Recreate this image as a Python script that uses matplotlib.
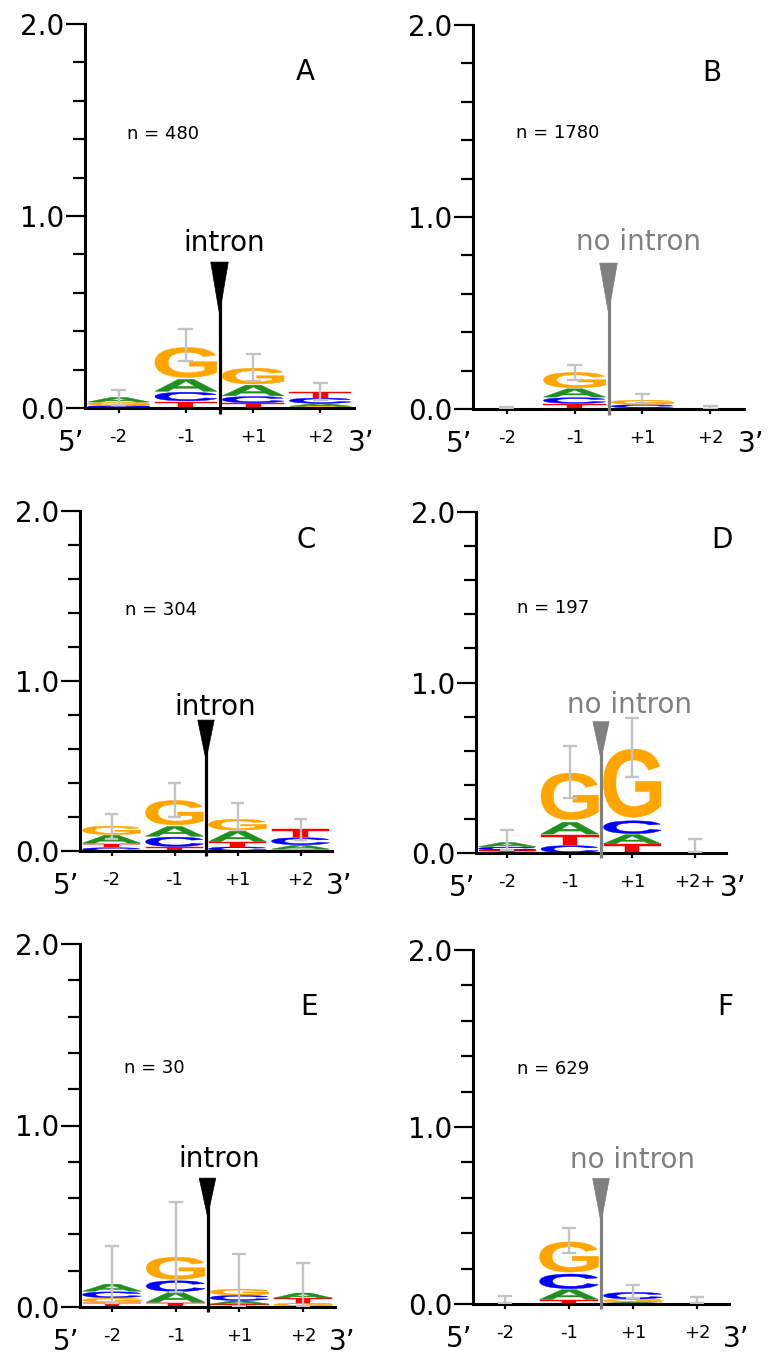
import matplotlib
matplotlib.use('Agg')
import matplotlib.pyplot as plt
from matplotlib.textpath import TextPath
from matplotlib.font_manager import FontProperties
from matplotlib.patches import PathPatch, Polygon
from matplotlib.transforms import Affine2D
from matplotlib.ticker import MultipleLocator, FixedLocator
import numpy as np

plt.rcParams['font.family'] = ['DejaVu Sans']

# ---------------- data ----------------
positions = [1, 2, 3, 4]
tick_labels = ['-2', '-1', '+1', '+2']
tick_labels_D = ['-2', '-1', '+1', '+2+']
bases = ['A', 'C', 'G', 'T']

# Panel A: intron, n = 480
A_A = [0.026, 0.068, 0.060, 0.015]
A_C = [0.008, 0.049, 0.035, 0.030]
A_G = [0.018, 0.170, 0.090, 0.008]
A_T = [0.004, 0.035, 0.026, 0.032]
A_err_lo = [0.017, 0.243, 0.142, 0.043]
A_err_hi = [0.092, 0.410, 0.280, 0.130]

# Panel B: no intron, n = 1780
B_A = [0.0005, 0.047, 0.003, 0.0005]
B_C = [0.0005, 0.032, 0.018, 0.0005]
B_G = [0.0005, 0.087, 0.024, 0.0005]
B_T = [0.0005, 0.028, 0.002, 0.0005]
B_err_lo = [0.000, 0.153, 0.031, 0.000]
B_err_hi = [0.012, 0.230, 0.078, 0.017]

# Panel C: intron, n = 304
C_A = [0.050, 0.063, 0.068, 0.025]
C_C = [0.020, 0.060, 0.025, 0.045]
C_G = [0.055, 0.157, 0.070, 0.010]
C_T = [0.024, 0.024, 0.027, 0.050]
C_err_lo = [0.071, 0.202, 0.124, 0.065]
C_err_hi = [0.218, 0.398, 0.280, 0.190]

# Panel D: no intron, n = 197
D_A = [0.026, 0.075, 0.058, 0.0005]
D_C = [0.020, 0.045, 0.082, 0.0005]
D_G = [0.008, 0.298, 0.435, 0.0005]
D_T = [0.008, 0.063, 0.052, 0.0005]
D_err_lo = [0.020, 0.324, 0.447, 0.006]
D_err_hi = [0.133, 0.627, 0.790, 0.084]

# Panel E: intron, n = 30
E_A = [0.042, 0.059, 0.020, 0.030]
E_C = [0.035, 0.064, 0.030, 0.004]
E_G = [0.026, 0.133, 0.035, 0.018]
E_T = [0.024, 0.024, 0.015, 0.026]
E_err_lo = [0.022, 0.083, 0.004, 0.004]
E_err_hi = [0.337, 0.580, 0.290, 0.243]

# Panel F: no intron, n = 629
F_A = [0.0005, 0.060, 0.008, 0.0005]
F_C = [0.0005, 0.090, 0.040, 0.0005]
F_G = [0.0005, 0.185, 0.016, 0.0005]
F_T = [0.0005, 0.023, 0.003, 0.0005]
F_err_lo = [0.008, 0.286, 0.032, 0.004]
F_err_hi = [0.045, 0.430, 0.107, 0.041]

n_values = {'A': 480, 'B': 1780, 'C': 304, 'D': 197, 'E': 30, 'F': 629}

# ---------------- styling / layout ----------------
base_colors = {'A': '#1f8f1f', 'C': '#0000ff', 'G': '#ffa500', 'T': '#ff0000'}
err_color = '#c3c3c3'
W, H = 768, 1353

panels = {
    'A': dict(data=(A_A, A_C, A_G, A_T, A_err_lo, A_err_hi), box=(85, 354, 24, 408),
              intron=True, mk=(0.76, 0.49), txt=(2.57, 0.82), ntxt=(1.12, 1.40), lab=(3.77, 1.71), ticks=tick_labels),
    'B': dict(data=(B_A, B_C, B_G, B_T, B_err_lo, B_err_hi), box=(473, 744, 25, 409),
              intron=False, mk=(0.76, 0.50), txt=(2.95, 0.83), ntxt=(1.13, 1.41), lab=(4.03, 1.71), ticks=tick_labels),
    'C': dict(data=(C_A, C_C, C_G, C_T, C_err_lo, C_err_hi), box=(80, 332, 511, 851),
              intron=True, mk=(0.77, 0.535), txt=(2.64, 0.80), ntxt=(1.21, 1.39), lab=(4.09, 1.78), ticks=tick_labels),
    'D': dict(data=(D_A, D_C, D_G, D_T, D_err_lo, D_err_hi), box=(476, 726, 512, 853),
              intron=False, mk=(0.77, 0.55), txt=(2.96, 0.82), ntxt=(1.16, 1.41), lab=(4.44, 1.79), ticks=tick_labels_D),
    'E': dict(data=(E_A, E_C, E_G, E_T, E_err_lo, E_err_hi), box=(80, 335, 944, 1307),
              intron=True, mk=(0.71, 0.50), txt=(2.68, 0.77), ntxt=(1.19, 1.29), lab=(4.09, 1.61), ticks=tick_labels),
    'F': dict(data=(F_A, F_C, F_G, F_T, F_err_lo, F_err_hi), box=(473, 729, 950, 1304),
              intron=False, mk=(0.71, 0.46), txt=(3.00, 0.77), ntxt=(1.19, 1.30), lab=(4.44, 1.63), ticks=tick_labels),
}

FP = FontProperties(family='Liberation Sans', weight='bold')
letter_paths = {}
for b in bases:
    p = TextPath((0, 0), b, size=1, prop=FP)
    letter_paths[b] = (p, p.get_extents())


def draw_letter(ax, b, xc, y0, w, h):
    p, ext = letter_paths[b]
    hh = h * 0.92
    yb = y0 + h * 0.04
    t = (Affine2D().translate(-ext.x0, -ext.y0)
         .scale(w / ext.width, hh / ext.height)
         .translate(xc - w / 2, yb))
    lw = 0.3 if h >= 0.003 else 0.0
    patch = PathPatch(t.transform_path(p), facecolor=base_colors[b],
                      edgecolor=base_colors[b] if lw else 'none', lw=lw)
    ax.add_patch(patch)


fig = plt.figure(figsize=(W / 100, H / 100), dpi=100)

for key, cfg in panels.items():
    l, r, t, btm = cfg['box']
    ax = fig.add_axes([l / W, 1 - btm / H, (r - l) / W, (btm - t) / H])
    ax.set_xlim(0.5, 4.5)
    ax.set_ylim(0, 2.0)
    for s in ('top', 'right'):
        ax.spines[s].set_visible(False)
    for s in ('left', 'bottom'):
        ax.spines[s].set_linewidth(2.2)

    a_v, c_v, g_v, t_v, lo, hi = cfg['data']
    heights = {'A': a_v, 'C': c_v, 'G': g_v, 'T': t_v}
    for i, x in enumerate(positions):
        col = sorted(bases, key=lambda bb: heights[bb][i])
        y0 = 0.0
        for bb in col:
            h = heights[bb][i]
            draw_letter(ax, bb, x, y0, 0.92, h)
            y0 += h
    ax.vlines(positions, lo, hi, color=err_color, lw=1.7, zorder=5)
    ax.hlines(lo, np.array(positions) - 0.11, np.array(positions) + 0.11, color=err_color, lw=1.7, zorder=5)
    ax.hlines(hi, np.array(positions) - 0.11, np.array(positions) + 0.11, color=err_color, lw=1.7, zorder=5)

    mcol = 'black' if cfg['intron'] else '#808080'
    ytop, ytip = cfg['mk']
    xm = 2.5
    tri = Polygon([[xm - 0.13, ytop], [xm + 0.13, ytop], [xm, ytip]], closed=True,
                  facecolor=mcol, edgecolor=mcol, lw=0.5, zorder=6)
    ax.add_patch(tri)
    ax.plot([xm, xm], [ytop, -0.03], color=mcol, lw=2.3, solid_capstyle='butt',
            clip_on=False, zorder=6)
    ax.text(cfg['txt'][0], cfg['txt'][1], 'intron' if cfg['intron'] else 'no intron',
            color=mcol, fontsize=20, ha='center', va='baseline')
    ax.text(cfg['ntxt'][0], cfg['ntxt'][1], f'n = {n_values[key]}', fontsize=13,
            ha='left', va='baseline')
    ax.text(cfg['lab'][0], cfg['lab'][1], key, fontsize=20, ha='center', va='baseline')

    # axes ticks
    ax.yaxis.set_major_locator(FixedLocator([0, 1, 2]))
    ax.set_yticklabels(['0.0', '1.0', '2.0'])
    ax.yaxis.set_minor_locator(MultipleLocator(0.2))
    ax.tick_params(axis='y', which='major', length=14, width=1.6, labelsize=20, pad=1)
    ax.tick_params(axis='y', which='minor', length=8.5, width=1.6)
    ax.set_xticks(positions)
    ax.set_xticklabels(cfg['ticks'])
    ax.tick_params(axis='x', which='major', length=3.6, width=1.6, labelsize=13, pad=11)

    ax.annotate('5\u2019', xy=(0.5, 0), xytext=(-10, -25), textcoords='offset points',
                fontsize=20, ha='center', va='center', annotation_clip=False)
    ax.annotate('3\u2019', xy=(4.5, 0), xytext=(5, -25), textcoords='offset points',
                fontsize=20, ha='center', va='center', annotation_clip=False)

fig.savefig('out.png', dpi=100)
